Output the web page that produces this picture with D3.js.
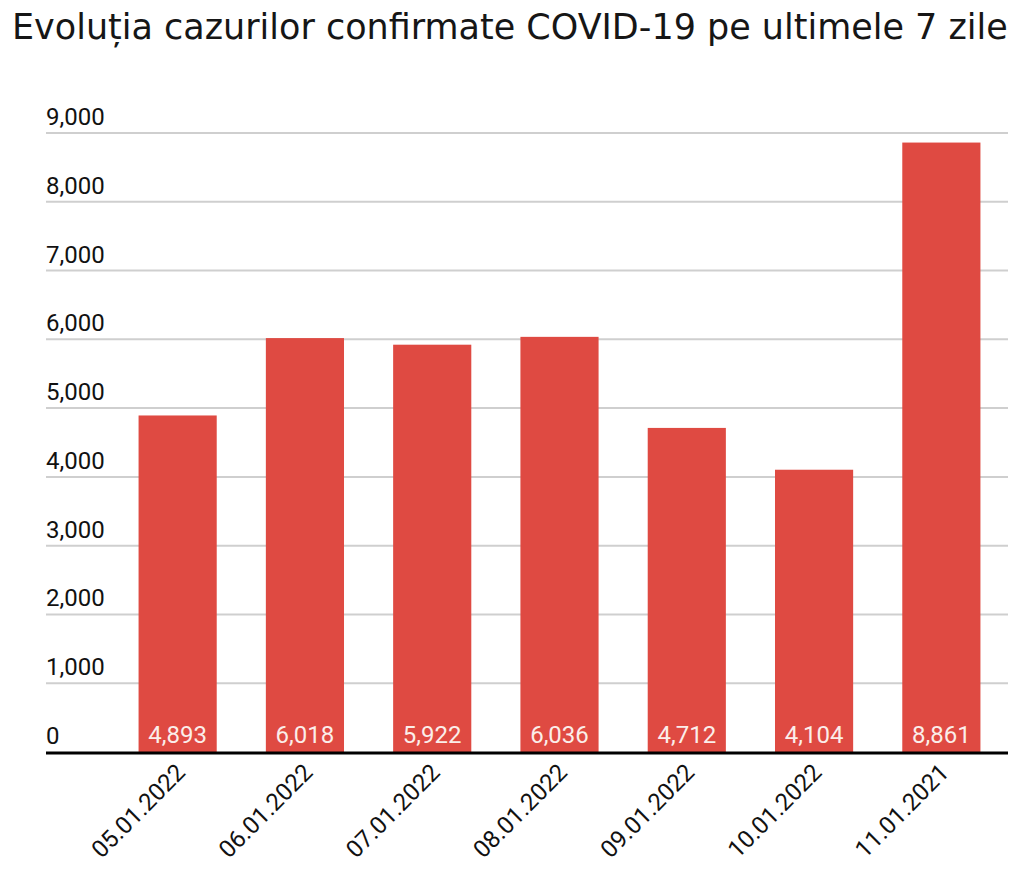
<!DOCTYPE html>
<html><head><meta charset="utf-8">
<script src="https://cdn.jsdelivr.net/npm/d3@7"></script>
<style>body{margin:0;background:#fff}svg{display:block}</style>
</head><body>
<svg id="c" width="1024" height="875"></svg>
<script>
const title = "Evoluția cazurilor confirmate COVID-19 pe ultimele 7 zile";
const categories = ["05.01.2022","06.01.2022","07.01.2022","08.01.2022","09.01.2022","10.01.2022","11.01.2021"];
const values = [4893, 6018, 5922, 6036, 4712, 4104, 8861];
const yTicks = [0,1000,2000,3000,4000,5000,6000,7000,8000,9000];

const svg = d3.select("#c");
const gridLeft = 46, gridRight = 1008;
const y = d3.scaleLinear().domain([0,9000]).range([752,133]);
const x = d3.scaleBand().domain(categories).range([114,1005]).paddingInner(0.386).paddingOuter(0.193);
const fmt = d3.format(",");

// title
const t = svg.append("text").attr("x",12).attr("y",39)
  .attr("font-family","'DejaVu Sans', sans-serif").attr("font-size",30).attr("fill","#161616")
  .text(title);
const w = t.node().getComputedTextLength();
t.attr("font-size", 30*996/w);

// grid
svg.append("g").selectAll("line").data(yTicks.filter(d=>d>0)).join("line")
  .attr("x1",gridLeft).attr("x2",gridRight)
  .attr("y1",d=>y(d)).attr("y2",d=>y(d))
  .attr("stroke","#cfcfcf").attr("stroke-width",2);

// y labels
svg.append("g").selectAll("text").data(yTicks).join("text")
  .attr("x",gridLeft).attr("y",d=>y(d)-8)
  .attr("font-family","Roboto, sans-serif").attr("font-size",24).attr("fill","#111")
  .text(d=>fmt(d));

// bars
svg.append("g").selectAll("rect").data(values).join("rect")
  .attr("x",(d,i)=>x(categories[i])).attr("width",x.bandwidth())
  .attr("y",d=>y(d)).attr("height",d=>y(0)-y(d))
  .attr("fill","#df4a42");

// value labels
svg.append("g").selectAll("text").data(values).join("text")
  .attr("x",(d,i)=>x(categories[i])+x.bandwidth()/2).attr("y",y(0)-9)
  .attr("text-anchor","middle")
  .attr("font-family","Roboto, sans-serif").attr("font-size",24).attr("fill","#fbeeea")
  .text(d=>fmt(d));

// x axis line
svg.append("line").attr("x1",gridLeft).attr("x2",gridRight)
  .attr("y1",y(0)+1).attr("y2",y(0)+1).attr("stroke","#000").attr("stroke-width",3);

// x labels
svg.append("g").selectAll("text").data(categories).join("text")
  .attr("transform",d=>`translate(${x(d)+x.bandwidth()/2+9},${y(0)+22}) rotate(-45)`)
  .attr("text-anchor","end")
  .attr("font-family","Roboto, sans-serif").attr("font-size",24).attr("fill","#111")
  .text(d=>d);
</script>
</body></html>
